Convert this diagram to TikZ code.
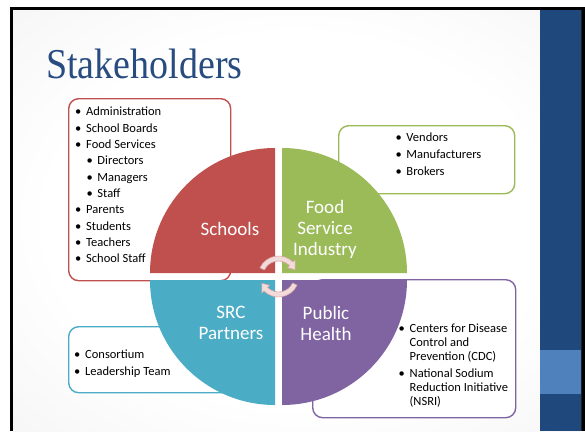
\documentclass[tikz,border=0pt]{standalone}
\usepackage{fontspec}
\setmainfont{Carlito}
\newfontfamily\titlefont{Liberation Serif}

\definecolor{slideblue}{HTML}{1F497D}
\definecolor{accentblue}{HTML}{4F81BD}
\definecolor{titleblue}{HTML}{284C80}
\definecolor{qred}{HTML}{C0504D}
\definecolor{qgreen}{HTML}{9BBB59}
\definecolor{qcyan}{HTML}{4BACC6}
\definecolor{qpurple}{HTML}{8064A2}
\definecolor{cyclefill}{HTML}{F2DCDB}
\definecolor{cycleedge}{HTML}{D9A5A4}

% soft white-to-grey glow behind the slide content
\pgfdeclareradialshading{slideglow}{\pgfpoint{0bp}{0bp}}{%
  color(0bp)=(white); color(22bp)=(white); color(50bp)=(black!7); color(75bp)=(black!13)}

\newcommand\bul{\makebox[11pt][l]{•}}

\begin{document}
\begin{tikzpicture}[x=1pt,y=-1pt,
  listbox/.style={rectangle, rounded corners=10pt, fill=white, line width=1.4pt,
    inner sep=0, anchor=north west},
  lst/.style={anchor=base west, inner sep=0, font=\fontsize{12.5}{14}\selectfont},
  qlabel/.style={text=white, align=center, inner sep=0,
    font=\fontsize{19}{21}\selectfont},
  cyclearrow/.style={fill=cyclefill, draw=cycleedge, line width=0.6pt, line join=round}]

\useasboundingbox (0,0) rectangle (585,431);

% slide frame and background
\fill[white] (0,0) rectangle (585,431);
\fill[black] (10,7) rectangle (585,431);
\shade[shading=slideglow] (13,10) rectangle (581,431);
\fill[slideblue] (540,10) rectangle (581,431);
\fill[accentblue] (540,350) rectangle (581,394);

% title
\node[anchor=base west, inner sep=0, text=titleblue,
      font=\titlefont\fontsize{38}{40}\selectfont] (title) at (46,78)
      {\scalebox{1}[1.12]{Stakeholders}};

% list boxes behind the circle
\node[listbox, draw=qred, minimum width=162pt, minimum height=182pt] (schoolsbox) at (68,98) {};
\node[listbox, draw=qgreen, minimum width=176pt, minimum height=68pt] (industrybox) at (338,125) {};
\node[listbox, draw=qpurple, minimum width=203pt, minimum height=138pt] (healthbox) at (312,279) {};
\node[listbox, draw=qcyan, minimum width=177pt, minimum height=66pt] (partnersbox) at (68,326) {};

% four quadrants
\fill[qred] (275,273) -- (150,273) arc[start angle=180, end angle=270, radius=125] -- cycle;
\fill[qgreen] (282,273) -- (282,148) arc[start angle=270, end angle=360, radius=125] -- cycle;
\fill[qcyan] (275,280) -- (150,280) arc[start angle=180, end angle=90, radius=125] -- cycle;
\fill[qpurple] (282,280) -- (407,280) arc[start angle=0, end angle=90, radius=125] -- cycle;

% quadrant labels
\node[qlabel] (schools) at (230,229) {Schools};
\node[qlabel] (industry) at (325,229) {Food\\Service\\Industry};
\node[qlabel] (partners) at (231,323) {SRC\\Partners};
\node[qlabel] (health) at (326,323) {Public\\Health};

% circular arrows in the middle
\begin{scope}[shift={(278.5,276.5)}, y=1pt]
  \filldraw[cyclearrow] (155:20.5) arc[start angle=155, end angle=45, radius=20.5]
    -- (45:23.5) -- (22:18) -- (45:12.5) -- (45:15.5)
    arc[start angle=45, end angle=155, radius=15.5] -- cycle;
  \filldraw[cyclearrow, rotate=180] (155:20.5) arc[start angle=155, end angle=45, radius=20.5]
    -- (45:23.5) -- (22:18) -- (45:12.5) -- (45:15.5)
    arc[start angle=45, end angle=155, radius=15.5] -- cycle;
\end{scope}

% schools list
\node[lst] (s1) at (75,115.7) {\bul Administration};
\node[lst] (s2) at (75,132.0) {\bul School Boards};
\node[lst] (s3) at (75,148.4) {\bul Food Services};
\node[lst] (s4) at (86.3,164.7) {\bul Directors};
\node[lst] (s5) at (86.3,181.0) {\bul Managers};
\node[lst] (s6) at (86.3,197.4) {\bul Staff};
\node[lst] (s7) at (75,213.7) {\bul Parents};
\node[lst] (s8) at (75,230.0) {\bul Students};
\node[lst] (s9) at (75,246.3) {\bul Teachers};
\node[lst] (s10) at (75,262.7) {\bul School Staff};

% industry list
\node[lst] (f1) at (395.3,141.7) {\bul Vendors};
\node[lst] (f2) at (395.3,158.3) {\bul Manufacturers};
\node[lst] (f3) at (395.3,175.0) {\bul Brokers};

% public health list
\node[lst] (h1) at (398.5,332.7) {\bul Centers for Disease};
\node[lst] (h2) at (409.5,346.7) {Control and};
\node[lst] (h3) at (409.5,360.7) {Prevention (CDC)};
\node[lst] (h4) at (398.5,377.3) {\bul National Sodium};
\node[lst] (h5) at (409.5,391.7) {Reduction Initiative};
\node[lst] (h6) at (409.5,405.0) {(NSRI)};

% partners list
\node[lst] (p1) at (74,358.3) {\bul Consortium};
\node[lst] (p2) at (74,375.0) {\bul Leadership Team};

\end{tikzpicture}
\end{document}
